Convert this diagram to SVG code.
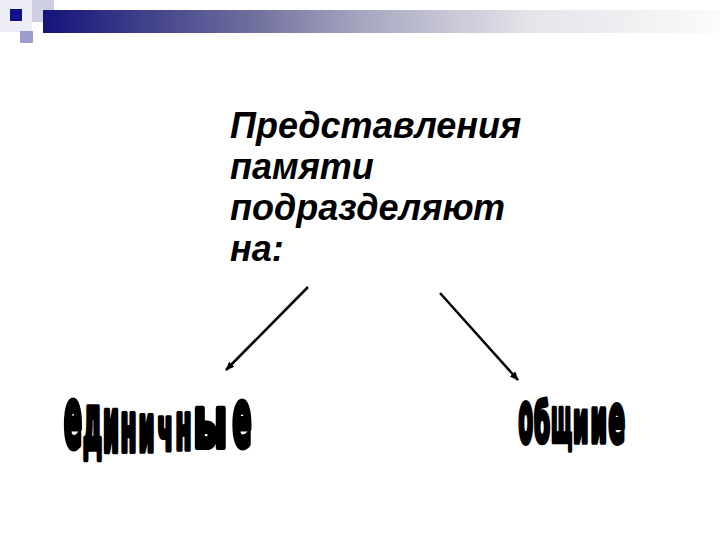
<svg xmlns="http://www.w3.org/2000/svg" width="720" height="540" viewBox="0 0 720 540">
  <defs>
    <linearGradient id="bar" x1="0" y1="0" x2="1" y2="0">
      <stop offset="0" stop-color="#14147a"/>
      <stop offset="0.3" stop-color="#6c6c9c"/>
      <stop offset="0.47" stop-color="#a6a6c0"/>
      <stop offset="0.72" stop-color="#e4e4ea"/>
      <stop offset="1" stop-color="#fbfbfb"/>
    </linearGradient>
    <marker id="arr" viewBox="0 0 10 10" refX="9" refY="5" markerWidth="9" markerHeight="9" markerUnits="userSpaceOnUse" orient="auto">
      <path d="M0,1 L10,5 L0,9 Z" fill="#000"/>
    </marker>
    <style>
      .main { font-family: "Liberation Sans", Arial, sans-serif; font-weight: bold; font-style: italic; font-size: 36px; fill: #000; }
      .wa { font-family: "DejaVu Sans Condensed", "DejaVu Sans", sans-serif; font-weight: bold; font-size: 30px; fill: #000; stroke: #000; stroke-width: 2.6; stroke-linejoin: round; }
      .conn { stroke: #000; stroke-width: 2.5; fill: none; }
    </style>
  </defs>

  <rect width="720" height="540" fill="#fff"/>

  <g id="header">
    <rect x="0" y="0" width="32" height="32" fill="#ededf5"/>
    <rect x="32" y="0" width="22" height="22" fill="#cfcfe4"/>
    <rect x="43" y="10" width="677" height="23" fill="url(#bar)"/>
    <rect x="10" y="9" width="12" height="12" fill="#10108c"/>
    <rect x="20" y="31" width="13" height="12" fill="#9c9cd0"/>
  </g>

  <g id="title">
    <text class="main" x="230" y="138">Представления</text>
    <text class="main" x="230" y="179">памяти</text>
    <text class="main" x="230" y="220">подразделяют</text>
    <text class="main" x="230" y="261">на:</text>
  </g>

  <g id="connectors">
    <line class="conn" x1="308" y1="287" x2="226" y2="370" marker-end="url(#arr)"/>
    <line class="conn" x1="440" y1="293" x2="518" y2="380" marker-end="url(#arr)"/>
  </g>

  <g id="edinichnye">
    <text class="wa" transform="translate(64,447) scale(1,2.72)" textLength="18" lengthAdjust="spacingAndGlyphs">е</text>
    <text class="wa" transform="translate(83,449) scale(1,2.52)" textLength="19" lengthAdjust="spacingAndGlyphs">д</text>
    <text class="wa" transform="translate(103,451) scale(1,2.46)" textLength="16" lengthAdjust="spacingAndGlyphs">и</text>
    <text class="wa" transform="translate(120.5,451) scale(1,2.28)" textLength="16" lengthAdjust="spacingAndGlyphs">н</text>
    <text class="wa" transform="translate(138.5,451) scale(1,2.16)" textLength="16" lengthAdjust="spacingAndGlyphs">и</text>
    <text class="wa" transform="translate(157.5,450) scale(1,1.98)" textLength="15.5" lengthAdjust="spacingAndGlyphs">ч</text>
    <text class="wa" transform="translate(175.5,449) scale(1,2.16)" textLength="16" lengthAdjust="spacingAndGlyphs">н</text>
    <text class="wa" transform="translate(193.5,447) scale(1,2.34)" textLength="33.5" lengthAdjust="spacingAndGlyphs">ы</text>
    <text class="wa" transform="translate(232.5,446) scale(1,2.64)" textLength="19" lengthAdjust="spacingAndGlyphs">е</text>
  </g>

  <g id="obshchie">
    <text class="wa" transform="translate(518.5,442) scale(1,2.34)" textLength="14.5" lengthAdjust="spacingAndGlyphs">о</text>
    <text class="wa" transform="translate(534,442) scale(1,1.82)" textLength="16" lengthAdjust="spacingAndGlyphs">б</text>
    <text class="wa" transform="translate(551,442) scale(1,2.04)" textLength="21" lengthAdjust="spacingAndGlyphs">щ</text>
    <text class="wa" transform="translate(573,442) scale(1,1.92)" textLength="15.5" lengthAdjust="spacingAndGlyphs">и</text>
    <text class="wa" transform="translate(590.5,442) scale(1,2.04)" textLength="16.5" lengthAdjust="spacingAndGlyphs">и</text>
    <text class="wa" transform="translate(608.5,442) scale(1,2.22)" textLength="16.5" lengthAdjust="spacingAndGlyphs">е</text>
  </g>
</svg>
